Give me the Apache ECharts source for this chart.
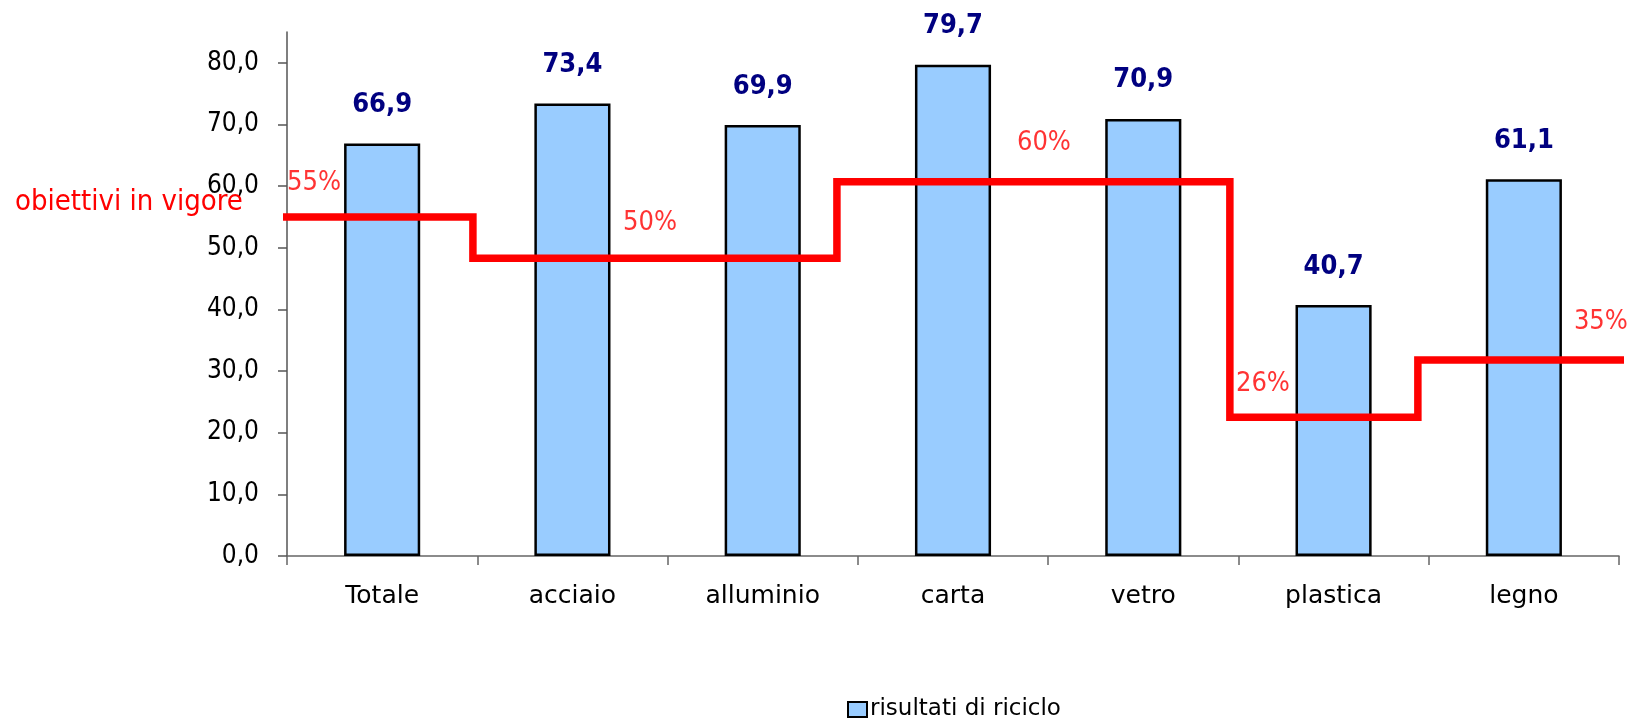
<!DOCTYPE html>
<html>
<head>
<meta charset="utf-8">
<script src="https://cdn.jsdelivr.net/npm/echarts@6/dist/echarts.min.js"></script>
<style>
  html, body { margin: 0; padding: 0; background: #fff; }
  #chart { width: 1627px; height: 719px; }
</style>
</head>
<body>
<div id="chart"></div>
<script>
// dati
var categories = ["Totale", "acciaio", "alluminio", "carta", "vetro", "plastica", "legno"];
var riciclo = [66.9, 73.4, 69.9, 79.7, 70.9, 40.7, 61.1];
var yTicks = [0, 10, 20, 30, 40, 50, 60, 70, 80];

// obiettivi (linea rossa a gradini) - livelli come disegnati nel grafico
var obiettiviLivelli = [55, 48.3, 60.7, 22.5, 31.8];
var obiettiviTesti = ["55%", "50%", "60%", "26%", "35%"];

// layout: bordi dei gradini e ancore delle etichette, in unita' di categoria
var stepEdges = [-0.04, 0.977, 2.89, 4.955, 5.943, 7.04];
var labelX = [0.0, 1.766, 3.836, 4.987, 6.763];
var labelY = [60.5, 54.0, 67.0, 27.9, 38.0];

var FONT = "DejaVu Sans, sans-serif";
var FONT_C = "DejaVu Sans Condensed, DejaVu Sans, sans-serif";

var linePoints = [];
for (var i = 0; i < obiettiviLivelli.length; i++) {
  linePoints.push([stepEdges[i], obiettiviLivelli[i]]);
  linePoints.push([stepEdges[i + 1], obiettiviLivelli[i]]);
}
var labelPoints = [];
for (var j = 0; j < obiettiviTesti.length; j++) {
  labelPoints.push({ name: obiettiviTesti[j], value: [labelX[j], labelY[j]] });
}

var myChart = echarts.init(document.getElementById("chart"));
myChart.setOption({
  animation: false,
  textStyle: { fontFamily: FONT },
  title: {
    text: "obiettivi in vigore",
    left: 10,
    top: 183,
    textStyle: { color: "#ff0000", fontSize: 29, fontWeight: "normal", fontFamily: FONT_C },
  },
  grid: { left: 287, right: 8, top: 32, bottom: 163, containLabel: false },
  legend: {
    data: ["risultati di riciclo"],
    icon: "rect",
    left: 842,
    top: 693,
    itemWidth: 19,
    itemHeight: 15,
    itemGap: 6,
    textStyle: { fontSize: 23, color: "#000", fontFamily: FONT, padding: [0, 0, 0, -2] },
    itemStyle: { borderColor: "#000", borderWidth: 2 },
  },
  xAxis: [
    {
      type: "category",
      data: categories,
      axisLine: { lineStyle: { color: "#666", width: 1.5 } },
      axisTick: { show: true, length: 9, lineStyle: { color: "#666", width: 1.5 } },
      axisLabel: { color: "#000", fontSize: 25, margin: 28, fontFamily: FONT },
    },
    {
      type: "value",
      min: 0,
      max: 7,
      show: false,
    },
  ],
  yAxis: {
    type: "value",
    min: 0,
    max: 85,
    interval: 10,
    splitLine: { show: false },
    axisLine: { show: true, lineStyle: { color: "#555", width: 1.5 } },
    axisTick: { show: true, length: 9, customValues: yTicks, lineStyle: { color: "#555", width: 1.5 } },
    axisLabel: {
      color: "#000",
      fontSize: 26,
      margin: 28,
      fontFamily: FONT_C,
      customValues: yTicks,
      formatter: function (v) {
        return v.toFixed(1).replace(".", ",");
      },
    },
  },
  series: [
    {
      name: "risultati di riciclo",
      type: "bar",
      data: riciclo,
      barWidth: "40%",
      itemStyle: { color: "#99ccff", borderColor: "#000", borderWidth: 2.5 },
      label: {
        show: true,
        position: "top",
        distance: 25,
        color: "#000080",
        fontSize: 27,
        fontWeight: "bold",
        fontFamily: FONT_C,
        formatter: function (p) {
          return p.value.toFixed(1).replace(".", ",");
        },
      },
    },
    {
      name: "obiettivi",
      type: "line",
      xAxisIndex: 1,
      data: linePoints,
      clip: false,
      showSymbol: false,
      symbol: "none",
      lineStyle: { color: "#ff0000", width: 7.5, join: "miter", cap: "butt" },
      z: 3,
    },
    {
      name: "etichette obiettivi",
      type: "scatter",
      xAxisIndex: 1,
      data: labelPoints,
      symbolSize: 0,
      clip: false,
      label: {
        show: true,
        position: "right",
        distance: 0,
        color: "#ff0000",
        fontSize: 27,
        fontFamily: FONT_C,
        formatter: function (p) {
          return p.name;
        },
      },
      z: 4,
    },
  ],
});
window.addEventListener("resize", function () {
  myChart.resize();
});
</script>
</body>
</html>
